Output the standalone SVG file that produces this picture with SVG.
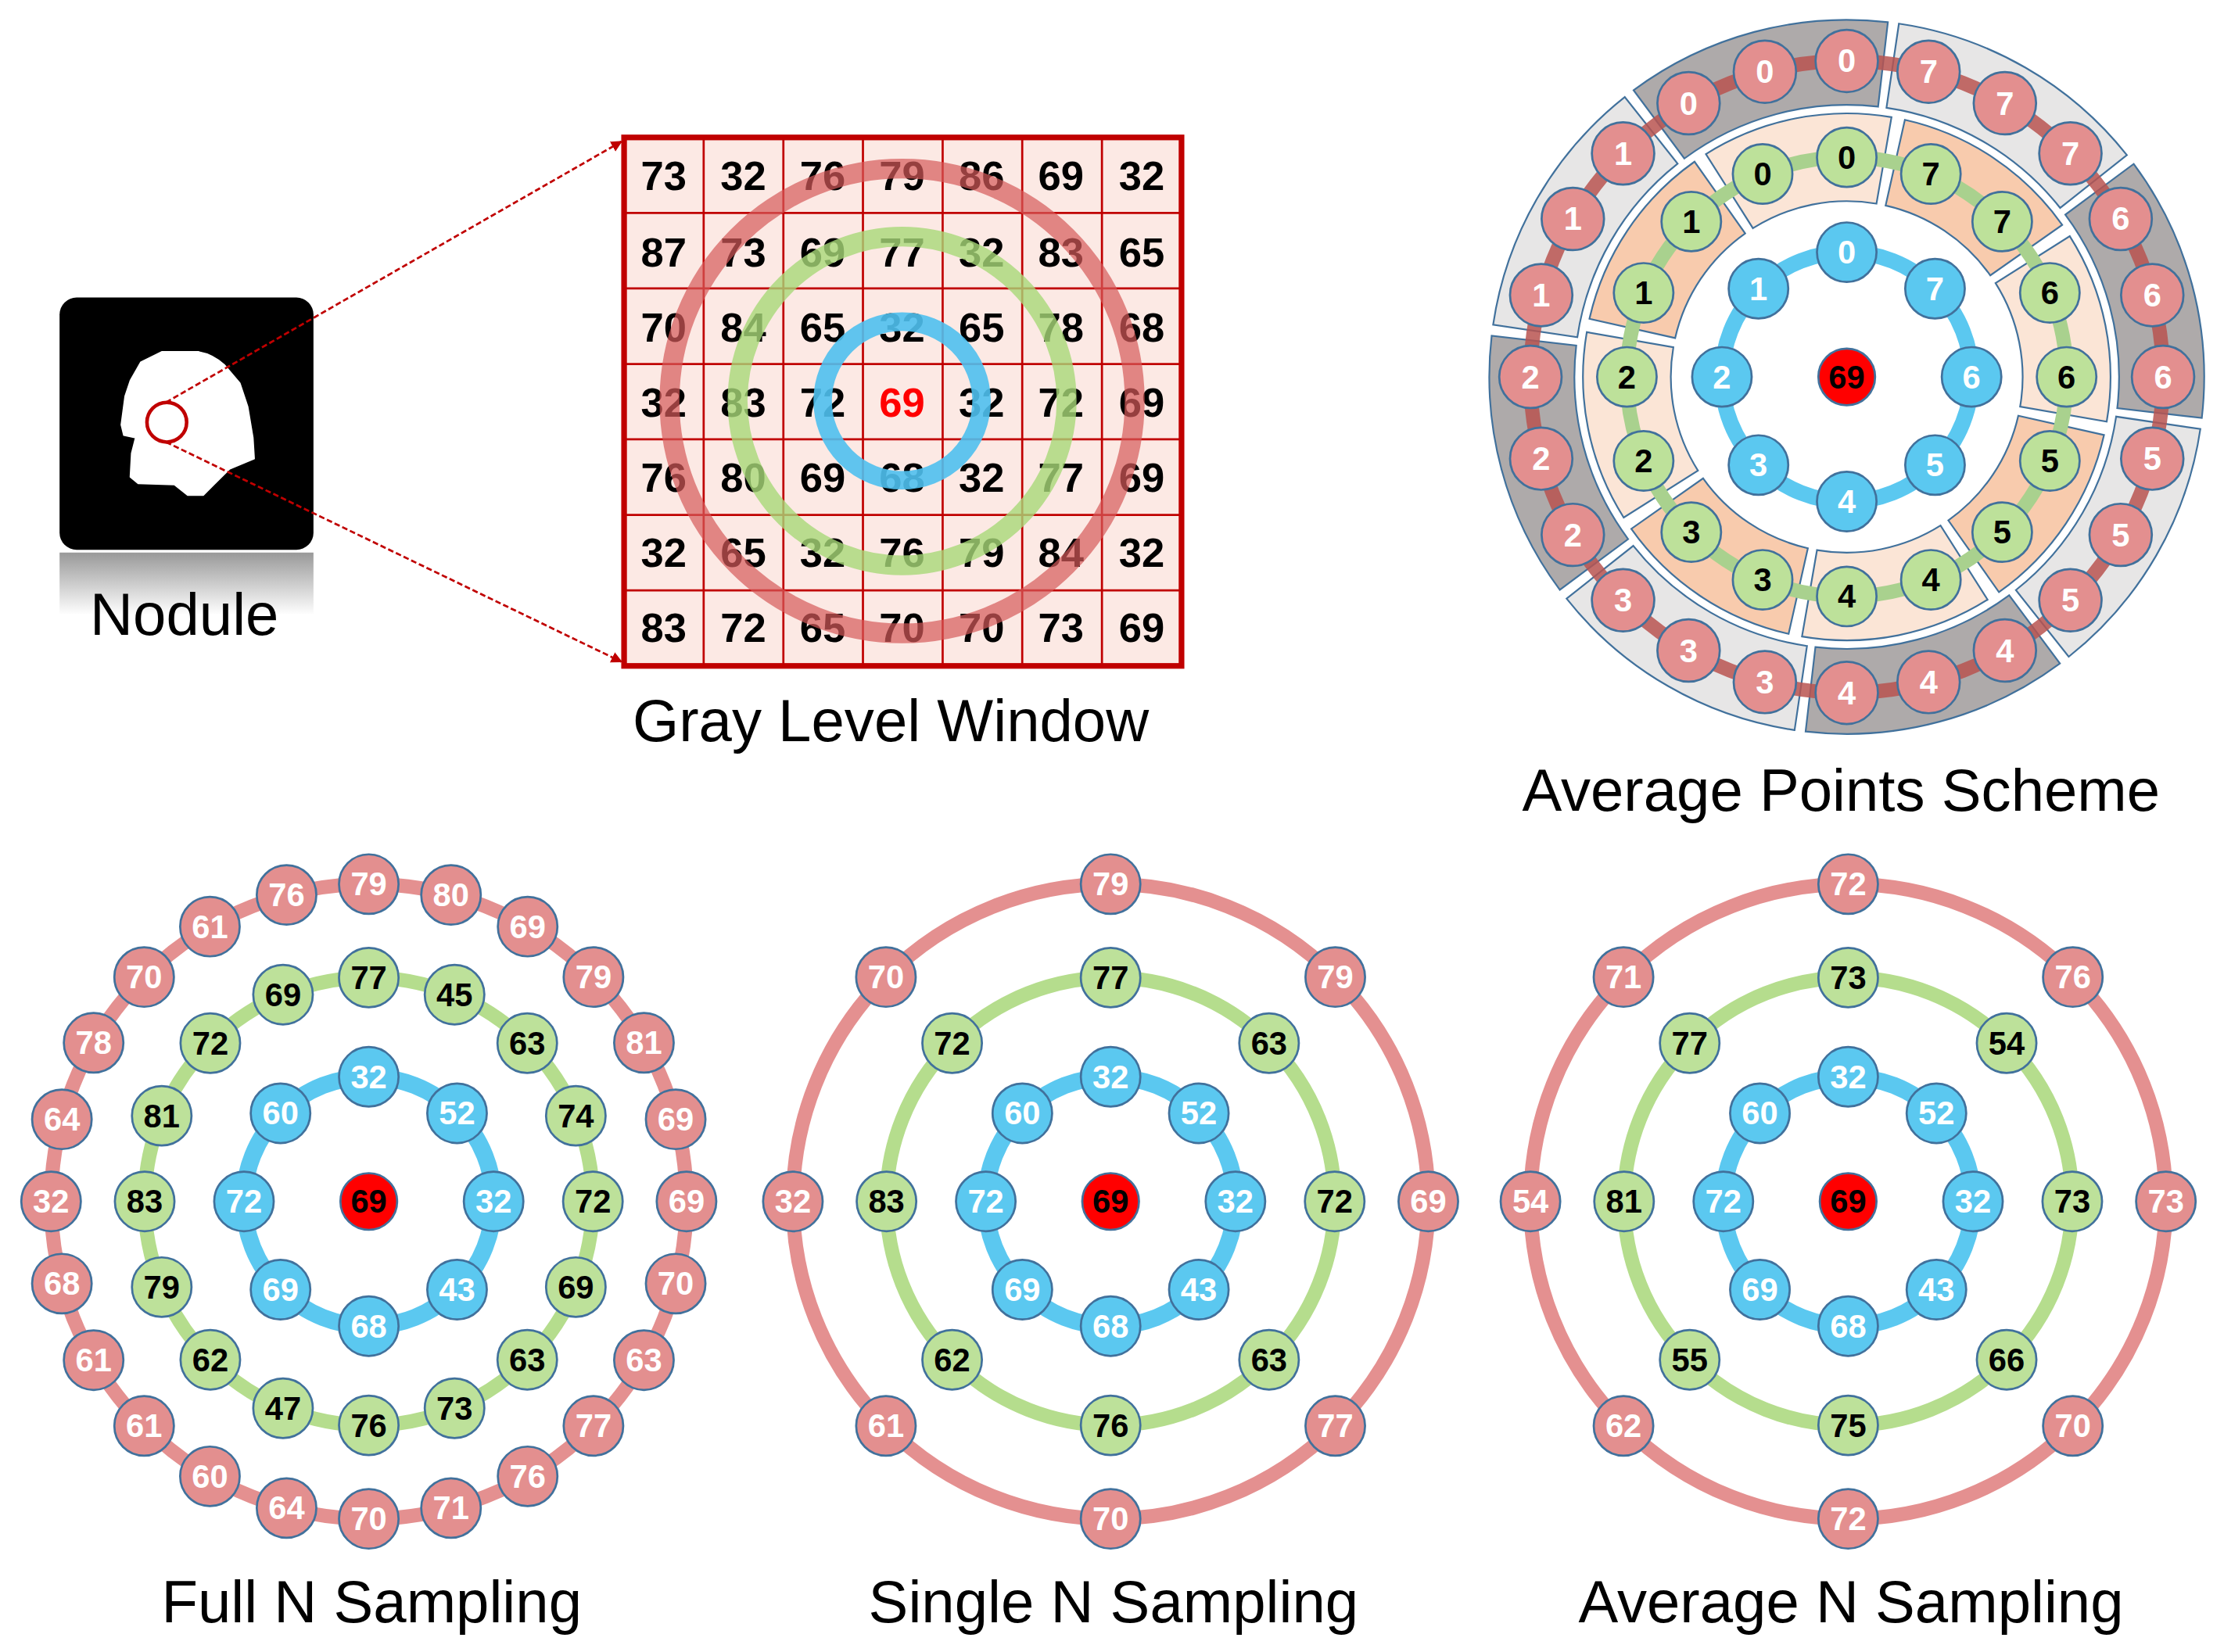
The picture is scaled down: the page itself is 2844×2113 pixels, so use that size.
<svg xmlns="http://www.w3.org/2000/svg" xmlns:xlink="http://www.w3.org/1999/xlink" width="2844" height="2113" viewBox="0 0 2844 2113">
<style>
text{font-family:"Liberation Sans",Arial,sans-serif}
.cap{font-size:42px;fill:#000;text-anchor:middle}
.gt{font-size:29px;font-weight:bold;text-anchor:middle;fill:#000}
.nt{font-size:23px;font-weight:bold;text-anchor:middle}
.rn{fill:#e38f8f;stroke:#41719c;stroke-width:1.5}
.gn{fill:#bde19a;stroke:#41719c;stroke-width:1.5}
.bn{fill:#5bc8f0;stroke:#41719c;stroke-width:1.5}
.w{fill:#fff}.k{fill:#000}
.rr{fill:none;stroke:#e49090;stroke-width:10}
.gr{fill:none;stroke:#b5dd8d;stroke-width:10}
.br{fill:none;stroke:#5bc8f0;stroke-width:12}
.sec{stroke:#41719c;stroke-width:1.2}
</style>
<defs>
<linearGradient id="refl" x1="0" y1="0" x2="0" y2="1"><stop offset="0" stop-color="#999"/><stop offset="1" stop-color="#fff"/></linearGradient>
<marker id="ah" markerWidth="8" markerHeight="8" refX="7" refY="4" orient="auto" markerUnits="userSpaceOnUse"><path d="M0,0 L8,4 L0,8 Z" fill="#c00000"/></marker>
<path id="rs" d="M -92.8 -234.3 A 252 252 0 0 1 92.8 -234.3 L 70.7 -178.5 A 192 192 0 0 0 -70.7 -178.5 Z"/>
<path id="gs" d="M -66.7 -173.6 A 186 186 0 0 1 66.7 -173.6 L 44.4 -115.8 A 124 124 0 0 0 -44.4 -115.8 Z"/>
</defs>
<g transform="scale(1.8138,1.8122)">
<g id="nodule">
<rect x="42" y="390" width="179" height="44" fill="url(#refl)"/>
<rect x="42" y="210" width="179" height="178" rx="12" fill="#000"/>
<path d="M114,248.3 L139.7,248.3 Q150,250 158.1,257.5 L169.1,270.4 L174.6,286.9 L178.3,309 L179.2,323.7 L161.7,331.1 L150.7,342.1 L143.3,349.5 L132.3,349.5 L123.1,342.1 L97.4,341.2 L91.9,336.6 L92.8,320.1 L95.6,309 L87.3,307.2 L85.5,299.8 L88.2,279.6 L91.9,268.6 L99.2,255.7 Z" fill="#fff" stroke="#fff" stroke-width="1" stroke-linejoin="round"/>
<circle cx="117.6" cy="298" r="14" fill="none" stroke="#c00000" stroke-width="2.5"/>
<text class="cap" x="130" y="448">Nodule</text>
</g>
<g id="connectors">
<line x1="117" y1="284" x2="438" y2="100" stroke="#c00000" stroke-width="1.5" stroke-dasharray="4,2" marker-end="url(#ah)"/>
<line x1="117" y1="312" x2="438" y2="467" stroke="#c00000" stroke-width="1.5" stroke-dasharray="4,2" marker-end="url(#ah)"/>
</g>
<g id="grid">
<rect x="440" y="97" width="393" height="373" fill="#fce9e4"/>
<g stroke="#c00000" stroke-width="1.5">
<line x1="496.1" y1="97" x2="496.1" y2="470"/><line x1="552.3" y1="97" x2="552.3" y2="470"/><line x1="608.4" y1="97" x2="608.4" y2="470"/><line x1="664.6" y1="97" x2="664.6" y2="470"/><line x1="720.7" y1="97" x2="720.7" y2="470"/><line x1="776.9" y1="97" x2="776.9" y2="470"/>
<line x1="440" y1="150.3" x2="833" y2="150.3"/><line x1="440" y1="203.6" x2="833" y2="203.6"/><line x1="440" y1="256.9" x2="833" y2="256.9"/><line x1="440" y1="310.1" x2="833" y2="310.1"/><line x1="440" y1="363.4" x2="833" y2="363.4"/><line x1="440" y1="416.7" x2="833" y2="416.7"/>
</g>
<rect x="440" y="97" width="393" height="373" fill="none" stroke="#c00000" stroke-width="4"/>
<g class="gt">
<text x="468" y="134" class="gt">73</text><text x="524" y="134" class="gt">32</text><text x="580" y="134" class="gt">76</text><text x="636" y="134" class="gt">79</text><text x="692" y="134" class="gt">86</text><text x="748" y="134" class="gt">69</text><text x="805" y="134" class="gt">32</text>
<text x="468" y="188" class="gt">87</text><text x="524" y="188" class="gt">73</text><text x="580" y="188" class="gt">69</text><text x="636" y="188" class="gt">77</text><text x="692" y="188" class="gt">32</text><text x="748" y="188" class="gt">83</text><text x="805" y="188" class="gt">65</text>
<text x="468" y="241" class="gt">70</text><text x="524" y="241" class="gt">84</text><text x="580" y="241" class="gt">65</text><text x="636" y="241" class="gt">32</text><text x="692" y="241" class="gt">65</text><text x="748" y="241" class="gt">78</text><text x="805" y="241" class="gt">68</text>
<text x="468" y="294" class="gt">32</text><text x="524" y="294" class="gt">83</text><text x="580" y="294" class="gt">72</text><text x="636" y="294" class="gt" style="fill:#ff0000">69</text><text x="692" y="294" class="gt">32</text><text x="748" y="294" class="gt">72</text><text x="805" y="294" class="gt">69</text>
<text x="468" y="347" class="gt">76</text><text x="524" y="347" class="gt">80</text><text x="580" y="347" class="gt">69</text><text x="636" y="347" class="gt">68</text><text x="692" y="347" class="gt">32</text><text x="748" y="347" class="gt">77</text><text x="805" y="347" class="gt">69</text>
<text x="468" y="400" class="gt">32</text><text x="524" y="400" class="gt">65</text><text x="580" y="400" class="gt">32</text><text x="636" y="400" class="gt">76</text><text x="692" y="400" class="gt">79</text><text x="748" y="400" class="gt">84</text><text x="805" y="400" class="gt">32</text>
<text x="468" y="453" class="gt">83</text><text x="524" y="453" class="gt">72</text><text x="580" y="453" class="gt">65</text><text x="636" y="453" class="gt">70</text><text x="692" y="453" class="gt">70</text><text x="748" y="453" class="gt">73</text><text x="805" y="453" class="gt">69</text>
</g>
<circle cx="636" cy="283" r="164" fill="none" stroke="#d65a5a" stroke-width="14" opacity="0.7"/>
<circle cx="636" cy="283" r="116" fill="none" stroke="#a8d878" stroke-width="14" opacity="0.8"/>
<circle cx="636" cy="283" r="56" fill="none" stroke="#4fc0ee" stroke-width="13" opacity="0.9"/>
<text class="cap" x="628" y="523">Gray Level Window</text>
</g>
<g id="aps" transform="translate(1302,266)">
<use xlink:href="#rs" transform="rotate(345)" fill="#aeaaaa" class="sec"/>
<use xlink:href="#rs" transform="rotate(30)" fill="#e7e6e6" class="sec"/>
<use xlink:href="#rs" transform="rotate(75)" fill="#aeaaaa" class="sec"/>
<use xlink:href="#rs" transform="rotate(120)" fill="#e7e6e6" class="sec"/>
<use xlink:href="#rs" transform="rotate(165)" fill="#aeaaaa" class="sec"/>
<use xlink:href="#rs" transform="rotate(210)" fill="#e7e6e6" class="sec"/>
<use xlink:href="#rs" transform="rotate(255)" fill="#aeaaaa" class="sec"/>
<use xlink:href="#rs" transform="rotate(300)" fill="#e7e6e6" class="sec"/>
<use xlink:href="#gs" transform="rotate(348.75)" fill="#fbe5d6" class="sec"/>
<use xlink:href="#gs" transform="rotate(33.75)" fill="#f8cbad" class="sec"/>
<use xlink:href="#gs" transform="rotate(78.75)" fill="#fbe5d6" class="sec"/>
<use xlink:href="#gs" transform="rotate(123.75)" fill="#f8cbad" class="sec"/>
<use xlink:href="#gs" transform="rotate(168.75)" fill="#fbe5d6" class="sec"/>
<use xlink:href="#gs" transform="rotate(213.75)" fill="#f8cbad" class="sec"/>
<use xlink:href="#gs" transform="rotate(258.75)" fill="#fbe5d6" class="sec"/>
<use xlink:href="#gs" transform="rotate(303.75)" fill="#f8cbad" class="sec"/>
<circle r="223" fill="none" stroke="#b85450" stroke-width="10" opacity="0.85"/>
<circle r="155" fill="none" stroke="#a9d18e" stroke-width="10"/>
<circle r="88" fill="none" stroke="#5bc8f0" stroke-width="11"/>
<g transform="rotate(0) translate(0,-223) rotate(0)"><circle r="22" class="rn"/><text class="nt w" y="8">0</text></g>
<g transform="rotate(15) translate(0,-223) rotate(-15)"><circle r="22" class="rn"/><text class="nt w" y="8">7</text></g>
<g transform="rotate(30) translate(0,-223) rotate(-30)"><circle r="22" class="rn"/><text class="nt w" y="8">7</text></g>
<g transform="rotate(45) translate(0,-223) rotate(-45)"><circle r="22" class="rn"/><text class="nt w" y="8">7</text></g>
<g transform="rotate(60) translate(0,-223) rotate(-60)"><circle r="22" class="rn"/><text class="nt w" y="8">6</text></g>
<g transform="rotate(75) translate(0,-223) rotate(-75)"><circle r="22" class="rn"/><text class="nt w" y="8">6</text></g>
<g transform="rotate(90) translate(0,-223) rotate(-90)"><circle r="22" class="rn"/><text class="nt w" y="8">6</text></g>
<g transform="rotate(105) translate(0,-223) rotate(-105)"><circle r="22" class="rn"/><text class="nt w" y="8">5</text></g>
<g transform="rotate(120) translate(0,-223) rotate(-120)"><circle r="22" class="rn"/><text class="nt w" y="8">5</text></g>
<g transform="rotate(135) translate(0,-223) rotate(-135)"><circle r="22" class="rn"/><text class="nt w" y="8">5</text></g>
<g transform="rotate(150) translate(0,-223) rotate(-150)"><circle r="22" class="rn"/><text class="nt w" y="8">4</text></g>
<g transform="rotate(165) translate(0,-223) rotate(-165)"><circle r="22" class="rn"/><text class="nt w" y="8">4</text></g>
<g transform="rotate(180) translate(0,-223) rotate(-180)"><circle r="22" class="rn"/><text class="nt w" y="8">4</text></g>
<g transform="rotate(195) translate(0,-223) rotate(-195)"><circle r="22" class="rn"/><text class="nt w" y="8">3</text></g>
<g transform="rotate(210) translate(0,-223) rotate(-210)"><circle r="22" class="rn"/><text class="nt w" y="8">3</text></g>
<g transform="rotate(225) translate(0,-223) rotate(-225)"><circle r="22" class="rn"/><text class="nt w" y="8">3</text></g>
<g transform="rotate(240) translate(0,-223) rotate(-240)"><circle r="22" class="rn"/><text class="nt w" y="8">2</text></g>
<g transform="rotate(255) translate(0,-223) rotate(-255)"><circle r="22" class="rn"/><text class="nt w" y="8">2</text></g>
<g transform="rotate(270) translate(0,-223) rotate(-270)"><circle r="22" class="rn"/><text class="nt w" y="8">2</text></g>
<g transform="rotate(285) translate(0,-223) rotate(-285)"><circle r="22" class="rn"/><text class="nt w" y="8">1</text></g>
<g transform="rotate(300) translate(0,-223) rotate(-300)"><circle r="22" class="rn"/><text class="nt w" y="8">1</text></g>
<g transform="rotate(315) translate(0,-223) rotate(-315)"><circle r="22" class="rn"/><text class="nt w" y="8">1</text></g>
<g transform="rotate(330) translate(0,-223) rotate(-330)"><circle r="22" class="rn"/><text class="nt w" y="8">0</text></g>
<g transform="rotate(345) translate(0,-223) rotate(-345)"><circle r="22" class="rn"/><text class="nt w" y="8">0</text></g>
<g transform="rotate(0) translate(0,-155) rotate(0)"><circle r="21" class="gn"/><text class="nt k" y="8">0</text></g>
<g transform="rotate(22.5) translate(0,-155) rotate(-22.5)"><circle r="21" class="gn"/><text class="nt k" y="8">7</text></g>
<g transform="rotate(45) translate(0,-155) rotate(-45)"><circle r="21" class="gn"/><text class="nt k" y="8">7</text></g>
<g transform="rotate(67.5) translate(0,-155) rotate(-67.5)"><circle r="21" class="gn"/><text class="nt k" y="8">6</text></g>
<g transform="rotate(90) translate(0,-155) rotate(-90)"><circle r="21" class="gn"/><text class="nt k" y="8">6</text></g>
<g transform="rotate(112.5) translate(0,-155) rotate(-112.5)"><circle r="21" class="gn"/><text class="nt k" y="8">5</text></g>
<g transform="rotate(135) translate(0,-155) rotate(-135)"><circle r="21" class="gn"/><text class="nt k" y="8">5</text></g>
<g transform="rotate(157.5) translate(0,-155) rotate(-157.5)"><circle r="21" class="gn"/><text class="nt k" y="8">4</text></g>
<g transform="rotate(180) translate(0,-155) rotate(-180)"><circle r="21" class="gn"/><text class="nt k" y="8">4</text></g>
<g transform="rotate(202.5) translate(0,-155) rotate(-202.5)"><circle r="21" class="gn"/><text class="nt k" y="8">3</text></g>
<g transform="rotate(225) translate(0,-155) rotate(-225)"><circle r="21" class="gn"/><text class="nt k" y="8">3</text></g>
<g transform="rotate(247.5) translate(0,-155) rotate(-247.5)"><circle r="21" class="gn"/><text class="nt k" y="8">2</text></g>
<g transform="rotate(270) translate(0,-155) rotate(-270)"><circle r="21" class="gn"/><text class="nt k" y="8">2</text></g>
<g transform="rotate(292.5) translate(0,-155) rotate(-292.5)"><circle r="21" class="gn"/><text class="nt k" y="8">1</text></g>
<g transform="rotate(315) translate(0,-155) rotate(-315)"><circle r="21" class="gn"/><text class="nt k" y="8">1</text></g>
<g transform="rotate(337.5) translate(0,-155) rotate(-337.5)"><circle r="21" class="gn"/><text class="nt k" y="8">0</text></g>
<g transform="rotate(0) translate(0,-88) rotate(0)"><circle r="21" class="bn"/><text class="nt w" y="8">0</text></g>
<g transform="rotate(45) translate(0,-88) rotate(-45)"><circle r="21" class="bn"/><text class="nt w" y="8">7</text></g>
<g transform="rotate(90) translate(0,-88) rotate(-90)"><circle r="21" class="bn"/><text class="nt w" y="8">6</text></g>
<g transform="rotate(135) translate(0,-88) rotate(-135)"><circle r="21" class="bn"/><text class="nt w" y="8">5</text></g>
<g transform="rotate(180) translate(0,-88) rotate(-180)"><circle r="21" class="bn"/><text class="nt w" y="8">4</text></g>
<g transform="rotate(225) translate(0,-88) rotate(-225)"><circle r="21" class="bn"/><text class="nt w" y="8">3</text></g>
<g transform="rotate(270) translate(0,-88) rotate(-270)"><circle r="21" class="bn"/><text class="nt w" y="8">2</text></g>
<g transform="rotate(315) translate(0,-88) rotate(-315)"><circle r="21" class="bn"/><text class="nt w" y="8">1</text></g>
<circle r="20" fill="#ff0000" stroke="#41719c" stroke-width="1.5"/><text class="nt k" y="8">69</text>
<text class="cap" x="-4" y="306">Average Points Scheme</text>
</g>
<g id="fulln" transform="translate(260,848)">
<circle r="224" class="rr"/><circle r="158" class="gr"/><circle r="88" class="br"/>
<g transform="rotate(0) translate(0,-224) rotate(0)"><circle r="21" class="rn"/><text class="nt w" y="8">79</text></g>
<g transform="rotate(15) translate(0,-224) rotate(-15)"><circle r="21" class="rn"/><text class="nt w" y="8">80</text></g>
<g transform="rotate(30) translate(0,-224) rotate(-30)"><circle r="21" class="rn"/><text class="nt w" y="8">69</text></g>
<g transform="rotate(45) translate(0,-224) rotate(-45)"><circle r="21" class="rn"/><text class="nt w" y="8">79</text></g>
<g transform="rotate(60) translate(0,-224) rotate(-60)"><circle r="21" class="rn"/><text class="nt w" y="8">81</text></g>
<g transform="rotate(75) translate(0,-224) rotate(-75)"><circle r="21" class="rn"/><text class="nt w" y="8">69</text></g>
<g transform="rotate(90) translate(0,-224) rotate(-90)"><circle r="21" class="rn"/><text class="nt w" y="8">69</text></g>
<g transform="rotate(105) translate(0,-224) rotate(-105)"><circle r="21" class="rn"/><text class="nt w" y="8">70</text></g>
<g transform="rotate(120) translate(0,-224) rotate(-120)"><circle r="21" class="rn"/><text class="nt w" y="8">63</text></g>
<g transform="rotate(135) translate(0,-224) rotate(-135)"><circle r="21" class="rn"/><text class="nt w" y="8">77</text></g>
<g transform="rotate(150) translate(0,-224) rotate(-150)"><circle r="21" class="rn"/><text class="nt w" y="8">76</text></g>
<g transform="rotate(165) translate(0,-224) rotate(-165)"><circle r="21" class="rn"/><text class="nt w" y="8">71</text></g>
<g transform="rotate(180) translate(0,-224) rotate(-180)"><circle r="21" class="rn"/><text class="nt w" y="8">70</text></g>
<g transform="rotate(195) translate(0,-224) rotate(-195)"><circle r="21" class="rn"/><text class="nt w" y="8">64</text></g>
<g transform="rotate(210) translate(0,-224) rotate(-210)"><circle r="21" class="rn"/><text class="nt w" y="8">60</text></g>
<g transform="rotate(225) translate(0,-224) rotate(-225)"><circle r="21" class="rn"/><text class="nt w" y="8">61</text></g>
<g transform="rotate(240) translate(0,-224) rotate(-240)"><circle r="21" class="rn"/><text class="nt w" y="8">61</text></g>
<g transform="rotate(255) translate(0,-224) rotate(-255)"><circle r="21" class="rn"/><text class="nt w" y="8">68</text></g>
<g transform="rotate(270) translate(0,-224) rotate(-270)"><circle r="21" class="rn"/><text class="nt w" y="8">32</text></g>
<g transform="rotate(285) translate(0,-224) rotate(-285)"><circle r="21" class="rn"/><text class="nt w" y="8">64</text></g>
<g transform="rotate(300) translate(0,-224) rotate(-300)"><circle r="21" class="rn"/><text class="nt w" y="8">78</text></g>
<g transform="rotate(315) translate(0,-224) rotate(-315)"><circle r="21" class="rn"/><text class="nt w" y="8">70</text></g>
<g transform="rotate(330) translate(0,-224) rotate(-330)"><circle r="21" class="rn"/><text class="nt w" y="8">61</text></g>
<g transform="rotate(345) translate(0,-224) rotate(-345)"><circle r="21" class="rn"/><text class="nt w" y="8">76</text></g>
<g transform="rotate(0) translate(0,-158) rotate(0)"><circle r="21" class="gn"/><text class="nt k" y="8">77</text></g>
<g transform="rotate(22.5) translate(0,-158) rotate(-22.5)"><circle r="21" class="gn"/><text class="nt k" y="8">45</text></g>
<g transform="rotate(45) translate(0,-158) rotate(-45)"><circle r="21" class="gn"/><text class="nt k" y="8">63</text></g>
<g transform="rotate(67.5) translate(0,-158) rotate(-67.5)"><circle r="21" class="gn"/><text class="nt k" y="8">74</text></g>
<g transform="rotate(90) translate(0,-158) rotate(-90)"><circle r="21" class="gn"/><text class="nt k" y="8">72</text></g>
<g transform="rotate(112.5) translate(0,-158) rotate(-112.5)"><circle r="21" class="gn"/><text class="nt k" y="8">69</text></g>
<g transform="rotate(135) translate(0,-158) rotate(-135)"><circle r="21" class="gn"/><text class="nt k" y="8">63</text></g>
<g transform="rotate(157.5) translate(0,-158) rotate(-157.5)"><circle r="21" class="gn"/><text class="nt k" y="8">73</text></g>
<g transform="rotate(180) translate(0,-158) rotate(-180)"><circle r="21" class="gn"/><text class="nt k" y="8">76</text></g>
<g transform="rotate(202.5) translate(0,-158) rotate(-202.5)"><circle r="21" class="gn"/><text class="nt k" y="8">47</text></g>
<g transform="rotate(225) translate(0,-158) rotate(-225)"><circle r="21" class="gn"/><text class="nt k" y="8">62</text></g>
<g transform="rotate(247.5) translate(0,-158) rotate(-247.5)"><circle r="21" class="gn"/><text class="nt k" y="8">79</text></g>
<g transform="rotate(270) translate(0,-158) rotate(-270)"><circle r="21" class="gn"/><text class="nt k" y="8">83</text></g>
<g transform="rotate(292.5) translate(0,-158) rotate(-292.5)"><circle r="21" class="gn"/><text class="nt k" y="8">81</text></g>
<g transform="rotate(315) translate(0,-158) rotate(-315)"><circle r="21" class="gn"/><text class="nt k" y="8">72</text></g>
<g transform="rotate(337.5) translate(0,-158) rotate(-337.5)"><circle r="21" class="gn"/><text class="nt k" y="8">69</text></g>
<g transform="rotate(0) translate(0,-88) rotate(0)"><circle r="21" class="bn"/><text class="nt w" y="8">32</text></g>
<g transform="rotate(45) translate(0,-88) rotate(-45)"><circle r="21" class="bn"/><text class="nt w" y="8">52</text></g>
<g transform="rotate(90) translate(0,-88) rotate(-90)"><circle r="21" class="bn"/><text class="nt w" y="8">32</text></g>
<g transform="rotate(135) translate(0,-88) rotate(-135)"><circle r="21" class="bn"/><text class="nt w" y="8">43</text></g>
<g transform="rotate(180) translate(0,-88) rotate(-180)"><circle r="21" class="bn"/><text class="nt w" y="8">68</text></g>
<g transform="rotate(225) translate(0,-88) rotate(-225)"><circle r="21" class="bn"/><text class="nt w" y="8">69</text></g>
<g transform="rotate(270) translate(0,-88) rotate(-270)"><circle r="21" class="bn"/><text class="nt w" y="8">72</text></g>
<g transform="rotate(315) translate(0,-88) rotate(-315)"><circle r="21" class="bn"/><text class="nt w" y="8">60</text></g>
<circle r="20" fill="#ff0000" stroke="#41719c" stroke-width="1.5"/><text class="nt k" y="8">69</text>
<text class="cap" x="2" y="297">Full N Sampling</text>
</g>
<g id="singlen" transform="translate(783,848)">
<circle r="224" class="rr"/><circle r="158" class="gr"/><circle r="88" class="br"/>
<g transform="rotate(0) translate(0,-224) rotate(0)"><circle r="21" class="rn"/><text class="nt w" y="8">79</text></g>
<g transform="rotate(45) translate(0,-224) rotate(-45)"><circle r="21" class="rn"/><text class="nt w" y="8">79</text></g>
<g transform="rotate(90) translate(0,-224) rotate(-90)"><circle r="21" class="rn"/><text class="nt w" y="8">69</text></g>
<g transform="rotate(135) translate(0,-224) rotate(-135)"><circle r="21" class="rn"/><text class="nt w" y="8">77</text></g>
<g transform="rotate(180) translate(0,-224) rotate(-180)"><circle r="21" class="rn"/><text class="nt w" y="8">70</text></g>
<g transform="rotate(225) translate(0,-224) rotate(-225)"><circle r="21" class="rn"/><text class="nt w" y="8">61</text></g>
<g transform="rotate(270) translate(0,-224) rotate(-270)"><circle r="21" class="rn"/><text class="nt w" y="8">32</text></g>
<g transform="rotate(315) translate(0,-224) rotate(-315)"><circle r="21" class="rn"/><text class="nt w" y="8">70</text></g>
<g transform="rotate(0) translate(0,-158) rotate(0)"><circle r="21" class="gn"/><text class="nt k" y="8">77</text></g>
<g transform="rotate(45) translate(0,-158) rotate(-45)"><circle r="21" class="gn"/><text class="nt k" y="8">63</text></g>
<g transform="rotate(90) translate(0,-158) rotate(-90)"><circle r="21" class="gn"/><text class="nt k" y="8">72</text></g>
<g transform="rotate(135) translate(0,-158) rotate(-135)"><circle r="21" class="gn"/><text class="nt k" y="8">63</text></g>
<g transform="rotate(180) translate(0,-158) rotate(-180)"><circle r="21" class="gn"/><text class="nt k" y="8">76</text></g>
<g transform="rotate(225) translate(0,-158) rotate(-225)"><circle r="21" class="gn"/><text class="nt k" y="8">62</text></g>
<g transform="rotate(270) translate(0,-158) rotate(-270)"><circle r="21" class="gn"/><text class="nt k" y="8">83</text></g>
<g transform="rotate(315) translate(0,-158) rotate(-315)"><circle r="21" class="gn"/><text class="nt k" y="8">72</text></g>
<g transform="rotate(0) translate(0,-88) rotate(0)"><circle r="21" class="bn"/><text class="nt w" y="8">32</text></g>
<g transform="rotate(45) translate(0,-88) rotate(-45)"><circle r="21" class="bn"/><text class="nt w" y="8">52</text></g>
<g transform="rotate(90) translate(0,-88) rotate(-90)"><circle r="21" class="bn"/><text class="nt w" y="8">32</text></g>
<g transform="rotate(135) translate(0,-88) rotate(-135)"><circle r="21" class="bn"/><text class="nt w" y="8">43</text></g>
<g transform="rotate(180) translate(0,-88) rotate(-180)"><circle r="21" class="bn"/><text class="nt w" y="8">68</text></g>
<g transform="rotate(225) translate(0,-88) rotate(-225)"><circle r="21" class="bn"/><text class="nt w" y="8">69</text></g>
<g transform="rotate(270) translate(0,-88) rotate(-270)"><circle r="21" class="bn"/><text class="nt w" y="8">72</text></g>
<g transform="rotate(315) translate(0,-88) rotate(-315)"><circle r="21" class="bn"/><text class="nt w" y="8">60</text></g>
<circle r="20" fill="#ff0000" stroke="#41719c" stroke-width="1.5"/><text class="nt k" y="8">69</text>
<text class="cap" x="2" y="297">Single N Sampling</text>
</g>
<g id="averagen" transform="translate(1303,848)">
<circle r="224" class="rr"/><circle r="158" class="gr"/><circle r="88" class="br"/>
<g transform="rotate(0) translate(0,-224) rotate(0)"><circle r="21" class="rn"/><text class="nt w" y="8">72</text></g>
<g transform="rotate(45) translate(0,-224) rotate(-45)"><circle r="21" class="rn"/><text class="nt w" y="8">76</text></g>
<g transform="rotate(90) translate(0,-224) rotate(-90)"><circle r="21" class="rn"/><text class="nt w" y="8">73</text></g>
<g transform="rotate(135) translate(0,-224) rotate(-135)"><circle r="21" class="rn"/><text class="nt w" y="8">70</text></g>
<g transform="rotate(180) translate(0,-224) rotate(-180)"><circle r="21" class="rn"/><text class="nt w" y="8">72</text></g>
<g transform="rotate(225) translate(0,-224) rotate(-225)"><circle r="21" class="rn"/><text class="nt w" y="8">62</text></g>
<g transform="rotate(270) translate(0,-224) rotate(-270)"><circle r="21" class="rn"/><text class="nt w" y="8">54</text></g>
<g transform="rotate(315) translate(0,-224) rotate(-315)"><circle r="21" class="rn"/><text class="nt w" y="8">71</text></g>
<g transform="rotate(0) translate(0,-158) rotate(0)"><circle r="21" class="gn"/><text class="nt k" y="8">73</text></g>
<g transform="rotate(45) translate(0,-158) rotate(-45)"><circle r="21" class="gn"/><text class="nt k" y="8">54</text></g>
<g transform="rotate(90) translate(0,-158) rotate(-90)"><circle r="21" class="gn"/><text class="nt k" y="8">73</text></g>
<g transform="rotate(135) translate(0,-158) rotate(-135)"><circle r="21" class="gn"/><text class="nt k" y="8">66</text></g>
<g transform="rotate(180) translate(0,-158) rotate(-180)"><circle r="21" class="gn"/><text class="nt k" y="8">75</text></g>
<g transform="rotate(225) translate(0,-158) rotate(-225)"><circle r="21" class="gn"/><text class="nt k" y="8">55</text></g>
<g transform="rotate(270) translate(0,-158) rotate(-270)"><circle r="21" class="gn"/><text class="nt k" y="8">81</text></g>
<g transform="rotate(315) translate(0,-158) rotate(-315)"><circle r="21" class="gn"/><text class="nt k" y="8">77</text></g>
<g transform="rotate(0) translate(0,-88) rotate(0)"><circle r="21" class="bn"/><text class="nt w" y="8">32</text></g>
<g transform="rotate(45) translate(0,-88) rotate(-45)"><circle r="21" class="bn"/><text class="nt w" y="8">52</text></g>
<g transform="rotate(90) translate(0,-88) rotate(-90)"><circle r="21" class="bn"/><text class="nt w" y="8">32</text></g>
<g transform="rotate(135) translate(0,-88) rotate(-135)"><circle r="21" class="bn"/><text class="nt w" y="8">43</text></g>
<g transform="rotate(180) translate(0,-88) rotate(-180)"><circle r="21" class="bn"/><text class="nt w" y="8">68</text></g>
<g transform="rotate(225) translate(0,-88) rotate(-225)"><circle r="21" class="bn"/><text class="nt w" y="8">69</text></g>
<g transform="rotate(270) translate(0,-88) rotate(-270)"><circle r="21" class="bn"/><text class="nt w" y="8">72</text></g>
<g transform="rotate(315) translate(0,-88) rotate(-315)"><circle r="21" class="bn"/><text class="nt w" y="8">60</text></g>
<circle r="20" fill="#ff0000" stroke="#41719c" stroke-width="1.5"/><text class="nt k" y="8">69</text>
<text class="cap" x="2" y="297">Average N Sampling</text>
</g>
</g>
</svg>
